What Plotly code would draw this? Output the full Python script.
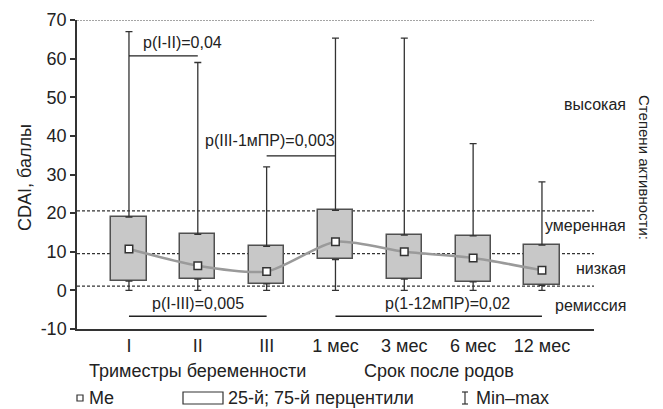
import plotly.graph_objects as go

# --- data -------------------------------------------------------------
categories = ["I", "II", "III", "1 мес", "3 мес", "6 мес", "12 мес"]
q1 = [2.4, 2.9, 1.7, 8.0, 2.9, 2.2, 1.3]
median = [10.7, 6.4, 4.9, 12.6, 10.0, 8.4, 5.2]
q3 = [19.0, 14.5, 11.4, 20.7, 14.3, 14.1, 11.7]
vmin = [0, 0, 0, 0, 0, 0, 0]
vmax = [67, 59, 32, 65.3, 65.3, 38, 28.1]

y_ticks = [-10, 0, 10, 20, 30, 40, 50, 60, 70]
y_tick_labels = ["-10", "0", "10", "20", "30", "40", "50", "60", "70"]

# activity thresholds (dashed) and upper limit (dotted)
thresholds = [1.1, 9.5, 20.6]
upper_limit = 70
activity_labels = ["высокая", "умеренная", "низкая", "ремиссия"]
activity_label_y = [48, 16.9, 5.7, -3.9]

# pairwise comparisons: (from index, to index, bracket level, label)
comparisons = [
    (0, 1, 60.7, "p(I-II)=0,04"),
    (2, 3, 34.8, "p(III-1мПР)=0,003"),
    (0, 2, -6.7, "p(I-III)=0,005"),
    (3, 6, -6.7, "p(1-12мПР)=0,02"),
]

FONT = "Liberation Sans, Arial, sans-serif"
INK = "#222222"

# plot-area pixel frame, used to place the free-standing labels
L, R, T, B = 77, 594, 20, 329
W, H = R - L, B - T
W_FIG, H_FIG = 663, 409


def px(x):
    return (x - L) / W


def py(y):
    return (B - y) / H


x = list(range(len(categories)))

fig = go.Figure()

# interquartile boxes
fig.add_trace(go.Bar(
    x=x, y=[b - a for a, b in zip(q1, q3)], base=q1, width=0.51,
    marker=dict(color="#c8c8c8", line=dict(color="#505050", width=1.5)),
    hoverinfo="skip", showlegend=False,
))

# upper whiskers: q3 -> max
fig.add_trace(go.Scatter(
    x=x, y=q3, mode="markers", marker=dict(size=1, color="rgba(0,0,0,0)"),
    error_y=dict(type="data", symmetric=False,
                 array=[b - a for a, b in zip(q3, vmax)],
                 arrayminus=[0] * len(x),
                 color="#333333", thickness=1.3, width=3.5),
    hoverinfo="skip", showlegend=False,
))

# lower whiskers: min -> q1
fig.add_trace(go.Scatter(
    x=x, y=q1, mode="markers", marker=dict(size=1, color="rgba(0,0,0,0)"),
    error_y=dict(type="data", symmetric=False,
                 array=[0] * len(x),
                 arrayminus=[a - b for a, b in zip(q1, vmin)],
                 color="#333333", thickness=1.3, width=3.5),
    hoverinfo="skip", showlegend=False,
))

# medians joined by a smooth line
fig.add_trace(go.Scatter(
    x=x, y=median, mode="lines+markers",
    line=dict(color="#9a9a9a", width=2.5, shape="spline", smoothing=0.7),
    marker=dict(symbol="square", size=7.5, color="white",
                line=dict(color="#333333", width=1.5)),
    hoverinfo="skip", showlegend=False,
))

shapes = []
for t in thresholds:
    shapes.append(dict(type="line", xref="paper", yref="y", x0=0, x1=1, y0=t, y1=t,
                       line=dict(color="#333333", width=1.2, dash="3px,2px"), layer="below"))
shapes.append(dict(type="line", xref="paper", yref="y", x0=0, x1=1,
                   y0=upper_limit, y1=upper_limit,
                   line=dict(color="#888888", width=1.5, dash="2px,1px"), layer="below"))

annotations = []

# comparison brackets
for i, j, lvl, text in comparisons:
    shapes.append(dict(type="line", xref="x", yref="y", x0=i, x1=j, y0=lvl, y1=lvl,
                       line=dict(color=INK, width=1.3)))
label_pos = [
    (0.174, 64.3, "left"),
    (3.02, 38.9, "right"),
    (1.0, -3.4, "center"),
    (4.63, -3.4, "center"),
]
for (i, j, lvl, text), (ax, ay, anchor) in zip(comparisons, label_pos):
    annotations.append(dict(x=ax, y=ay, xref="x", yref="y", text=text, showarrow=False,
                            xanchor=anchor, yanchor="middle",
                            font=dict(family=FONT, size=16, color=INK)))

# activity level labels on the right
for lab, ly in zip(activity_labels, activity_label_y):
    annotations.append(dict(x=px(628), y=ly, xref="paper", yref="y", text=lab,
                            showarrow=False, xanchor="right", yanchor="middle",
                            font=dict(family=FONT, size=16, color=INK)))
annotations.append(dict(x=px(645), y=py(167), xref="paper", yref="paper",
                        text="Степени активности:", textangle=90, showarrow=False,
                        xanchor="center", yanchor="middle",
                        font=dict(family=FONT, size=15, color=INK)))

# y-axis title
annotations.append(dict(x=px(25), y=py(178), xref="paper", yref="paper",
                        text="CDAI, баллы", textangle=-90, showarrow=False,
                        xanchor="center", yanchor="middle",
                        font=dict(family=FONT, size=18, color=INK)))

# group titles under the category labels
annotations.append(dict(x=1, y=py(371), xref="x", yref="paper",
                        text="Триместры беременности", showarrow=False,
                        xanchor="center", yanchor="middle",
                        font=dict(family=FONT, size=18, color=INK)))
annotations.append(dict(x=4.5, y=py(371), xref="x", yref="paper",
                        text="Срок после родов", showarrow=False,
                        xanchor="center", yanchor="middle",
                        font=dict(family=FONT, size=18, color=INK)))

# key row
key_y = 398
shapes.append(dict(type="rect", xref="paper", yref="paper",
                   x0=px(77), x1=px(83), y0=py(401), y1=py(395),
                   line=dict(color="#333333", width=1.2), fillcolor="white"))
annotations.append(dict(x=px(87), y=py(key_y), xref="paper", yref="paper", text="Me",
                        showarrow=False, xanchor="left", yanchor="middle",
                        font=dict(family=FONT, size=18, color=INK)))
shapes.append(dict(type="rect", xref="paper", yref="paper",
                   x0=px(183), x1=px(223), y0=py(404), y1=py(392),
                   line=dict(color="#333333", width=1.2), fillcolor="white"))
annotations.append(dict(x=px(226), y=py(key_y), xref="paper", yref="paper",
                        text="25-й; 75-й перцентили", showarrow=False,
                        xanchor="left", yanchor="middle",
                        font=dict(family=FONT, size=18, color=INK)))
shapes.append(dict(type="line", xref="paper", yref="paper",
                   x0=px(465), x1=px(465), y0=py(404), y1=py(392),
                   line=dict(color="#333333", width=1.2)))
for cy in (392, 404):
    shapes.append(dict(type="line", xref="paper", yref="paper",
                       x0=px(462), x1=px(468), y0=py(cy), y1=py(cy),
                       line=dict(color="#333333", width=1.2)))
annotations.append(dict(x=px(474), y=py(key_y), xref="paper", yref="paper",
                        text="Min–max", showarrow=False, xanchor="left", yanchor="middle",
                        font=dict(family=FONT, size=18, color=INK)))

fig.update_layout(
    width=W_FIG, height=H_FIG,
    margin=dict(l=L, r=W_FIG - R, t=T, b=H_FIG - B, autoexpand=False),
    paper_bgcolor="white", plot_bgcolor="white",
    font=dict(family=FONT, size=18, color=INK),
    shapes=shapes, annotations=annotations,
    showlegend=False, bargap=0,
)
fig.update_xaxes(
    range=[-0.755, 6.756], tickvals=x, ticktext=categories,
    showline=True, linecolor="#333333", linewidth=1.5, ticks="",
    showgrid=False, zeroline=False, tickfont=dict(family=FONT, size=18, color=INK),
)
fig.update_yaxes(
    range=[-10, 70], tickvals=y_ticks, ticktext=y_tick_labels,
    showline=True, linecolor="#333333", linewidth=1.5,
    ticks="outside", ticklen=5, tickwidth=1.5, tickcolor="#333333",
    showgrid=False, zeroline=False, tickfont=dict(family=FONT, size=18, color=INK),
)

fig.write_html("out.html")
